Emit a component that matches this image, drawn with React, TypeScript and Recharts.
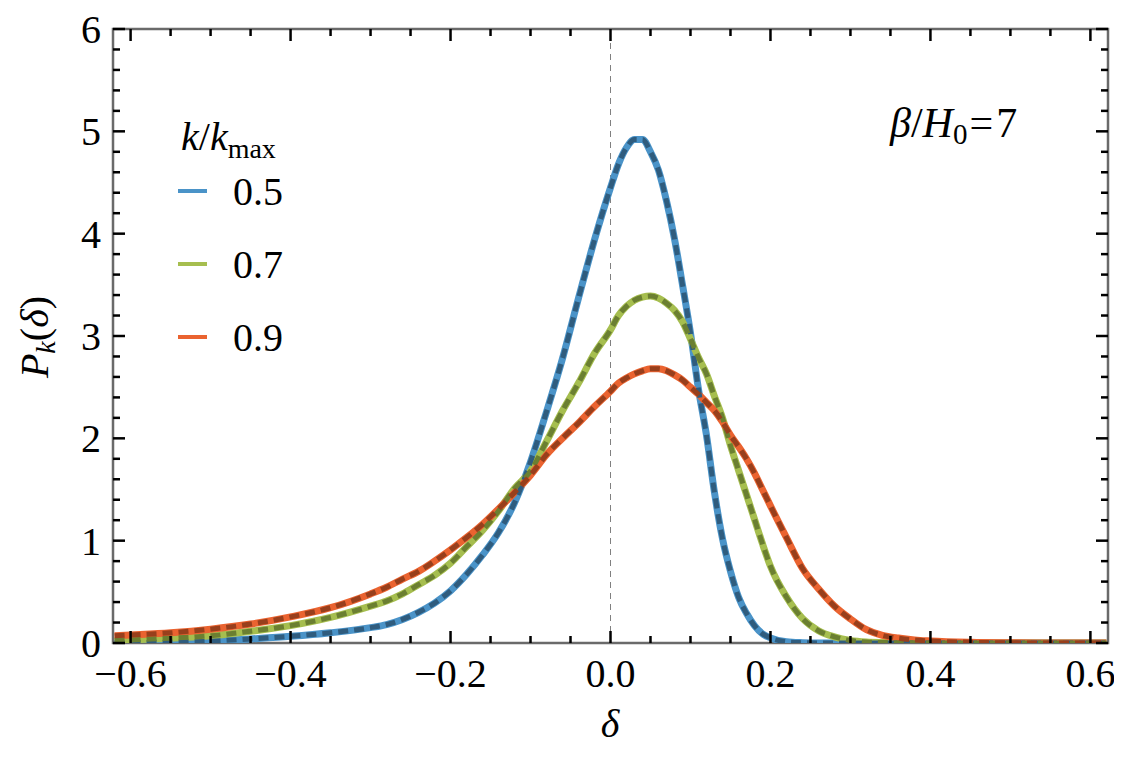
import { LineChart, Line, XAxis, YAxis, ReferenceLine, ReferenceArea } from 'recharts';

// delta grid shared by the three histograms
const delta = [
  -0.62, -0.6, -0.55, -0.5, -0.45, -0.4, -0.35, -0.3, -0.28, -0.26, -0.24, -0.22, -0.2, -0.18, -0.16,
  -0.14, -0.12, -0.1, -0.08, -0.06, -0.04, -0.02, 0, 0.01, 0.02, 0.03, 0.04, 0.05, 0.06, 0.07, 0.08,
  0.09, 0.1, 0.11, 0.12, 0.13, 0.14, 0.15, 0.16, 0.17, 0.18, 0.19, 0.2, 0.22, 0.24, 0.26, 0.28, 0.3,
  0.32, 0.34, 0.36, 0.38, 0.4, 0.45, 0.5, 0.55, 0.6, 0.62,
];

const p05 = [
  0.002, 0.004, 0.008, 0.018, 0.04, 0.065, 0.1, 0.15, 0.18, 0.23, 0.3, 0.39, 0.51, 0.67, 0.86,
  1.08, 1.37, 1.77, 2.26, 2.78, 3.37, 3.94, 4.45, 4.68, 4.84, 4.92, 4.92, 4.8, 4.62, 4.32, 3.95,
  3.5, 3.03, 2.48, 2.03, 1.47, 1.02, 0.7, 0.45, 0.29, 0.17, 0.09, 0.05, 0.012, 0.003, 0, 0, 0,
  0, 0, 0, 0, 0, 0, 0, 0, 0, 0,
];

const p07 = [
  0.025, 0.03, 0.047, 0.07, 0.115, 0.17, 0.25, 0.36, 0.41, 0.48, 0.57, 0.66, 0.78, 0.94, 1.1,
  1.29, 1.51, 1.68, 1.97, 2.27, 2.54, 2.83, 3.06, 3.2, 3.29, 3.35, 3.38, 3.39, 3.37, 3.32, 3.25,
  3.14, 2.97, 2.79, 2.63, 2.41, 2.2, 1.93, 1.69, 1.45, 1.21, 0.97, 0.75, 0.45, 0.24, 0.12, 0.06, 0.025,
  0.01, 0.005, 0.003, 0.002, 0, 0, 0, 0, 0, 0,
];

const p09 = [
  0.07, 0.078, 0.1, 0.135, 0.185, 0.255, 0.345, 0.48, 0.545, 0.625, 0.7, 0.8, 0.91, 1.03, 1.16,
  1.31, 1.47, 1.64, 1.84, 2.0, 2.15, 2.31, 2.46, 2.54, 2.59, 2.63, 2.66, 2.68, 2.68, 2.66, 2.62,
  2.57, 2.5, 2.43, 2.35, 2.27, 2.16, 2.03, 1.92, 1.8, 1.66, 1.5, 1.34, 1.03, 0.73, 0.53, 0.36, 0.235,
  0.13, 0.075, 0.048, 0.03, 0.02, 0.007, 0.002, 0, 0, 0,
];

const xTicks = [
  -0.6, -0.55, -0.5, -0.45, -0.4, -0.35, -0.3, -0.25, -0.2, -0.15, -0.1, -0.05, 0, 0.05, 0.1, 0.15,
  0.2, 0.25, 0.3, 0.35, 0.4, 0.45, 0.5, 0.55, 0.6,
];
const yTicks = [
  0, 0.2, 0.4, 0.6, 0.8, 1, 1.2, 1.4, 1.6, 1.8, 2, 2.2, 2.4, 2.6, 2.8, 3, 3.2, 3.4, 3.6, 3.8, 4,
  4.2, 4.4, 4.6, 4.8, 5, 5.2, 5.4, 5.6, 5.8, 6,
];

const series = [
  { key: 'k05', label: '0.5', color: '#4a93c8', fit: '#2f5c7e', values: p05 },
  { key: 'k07', label: '0.7', color: '#a6be4f', fit: '#6b7f31', values: p07 },
  { key: 'k09', label: '0.9', color: '#ea6330', fit: '#983f1c', values: p09 },
];

const data = delta.map((d, i) => {
  const row: Record<string, number> = { d };
  series.forEach((s) => {
    row[s.key] = s.values[i];
  });
  return row;
});

const W = 1106;
const H = 741;
const PLOT_W = 995;
const PLOT_H = 614;
const FONT = '"Liberation Serif", "Times New Roman", serif';
const FS = 40;

const fmt = (v: number) => (v < 0 ? '\u2212' + Math.abs(v).toFixed(1) : v.toFixed(1));

const XTick = (props: any) => {
  const { x, y, payload } = props;
  const v = payload.value;
  const major = Math.abs(v * 5 - Math.round(v * 5)) < 1e-6;
  const len = major ? 12 : 7;
  return (
    <g>
      <line x1={x} x2={x} y1={y} y2={y - len} stroke="#000" strokeWidth={2.5} />
      <line x1={x} x2={x} y1={y - PLOT_H} y2={y - PLOT_H + len} stroke="#000" strokeWidth={2.5} />
      {major && (
        <text x={x} y={y + 44} textAnchor="middle" fontFamily={FONT} fontSize={FS} fill="#000">
          {fmt(v)}
        </text>
      )}
    </g>
  );
};

const YTick = (props: any) => {
  const { x, y, payload } = props;
  const v = payload.value;
  const major = Math.abs(v - Math.round(v)) < 1e-6;
  const len = major ? 12 : 7;
  return (
    <g>
      <line x1={x} x2={x + len} y1={y} y2={y} stroke="#000" strokeWidth={2.5} />
      <line x1={x + PLOT_W} x2={x + PLOT_W - len} y1={y} y2={y} stroke="#000" strokeWidth={2.5} />
      {major && (
        <text x={x - 12} y={y + 14} textAnchor="end" fontFamily={FONT} fontSize={FS} fill="#000">
          {Math.round(v)}
        </text>
      )}
    </g>
  );
};

export default function App() {
  return (
    <div style={{ position: 'relative', width: W, height: H, background: '#fff' }}>
      <LineChart width={W} height={H} data={data} margin={{ top: 21, right: 6, bottom: 105, left: 104 }}>
        <XAxis
          type="number"
          dataKey="d"
          domain={[-0.622, 0.622]}
          ticks={xTicks}
          tick={XTick}
          interval={0}
          tickLine={false}
          tickSize={0}
          tickMargin={0}
          axisLine={false}
          height={1}
          allowDataOverflow
        />
        <YAxis
          type="number"
          domain={[0, 6]}
          ticks={yTicks}
          tick={YTick}
          interval={0}
          tickLine={false}
          tickSize={0}
          tickMargin={0}
          axisLine={false}
          width={1}
          allowDataOverflow
        />
        <ReferenceLine x={0} stroke="#808080" strokeWidth={1} strokeDasharray="6 5" />
        {series.map((s) => (
          <Line
            key={s.key}
            dataKey={s.key}
            type="monotone"
            stroke={s.color}
            strokeWidth={7}
            dot={false}
            isAnimationActive={false}
          />
        ))}
        {series.map((s) => (
          <Line
            key={s.key + '-fit'}
            dataKey={s.key}
            type="monotone"
            stroke={s.fit}
            strokeWidth={5}
            strokeDasharray="10 6"
            dot={false}
            legendType="none"
            isAnimationActive={false}
          />
        ))}
        <ReferenceArea
          x1={-0.622}
          x2={0.622}
          y1={0}
          y2={6}
          fill="none"
          stroke="#6a6a6a"
          strokeWidth={2.5}
          ifOverflow="visible"
        />
      </LineChart>
      <svg
        width={W}
        height={H}
        style={{ position: 'absolute', left: 0, top: 0, pointerEvents: 'none', overflow: 'visible' }}
        fontFamily={FONT}
        fontSize={FS}
        fill="#000"
      >
        <text x={173} y={142}>
          <tspan fontStyle="italic">k</tspan>/<tspan fontStyle="italic">k</tspan>
          <tspan fontSize={28} dy={8}>max</tspan>
        </text>
        {series.map((s, i) => (
          <g key={s.key}>
            <line x1={170} x2={199} y1={183 + i * 73} y2={183 + i * 73} stroke={s.color} strokeWidth={4} />
            <text x={225} y={197 + i * 73}>{s.label}</text>
          </g>
        ))}
        <text x={882} y={129} fontSize={42}>
          <tspan fontStyle="italic">β</tspan>/<tspan fontStyle="italic">H</tspan>
          <tspan fontSize={29} dy={7}>0</tspan>
          <tspan dy={-7} dx={2}>=</tspan>
          <tspan dx={3}>7</tspan>
        </text>
        <text x={602} y={729} textAnchor="middle" fontStyle="italic">δ</text>
        <text x={40} y={329} textAnchor="middle" transform="rotate(-90 40 329)">
          <tspan fontStyle="italic">P</tspan>
          <tspan fontStyle="italic" fontSize={28} dy={7}>k</tspan>
          <tspan dy={-7}>(</tspan>
          <tspan fontStyle="italic">δ</tspan>)
        </text>
      </svg>
    </div>
  );
}
